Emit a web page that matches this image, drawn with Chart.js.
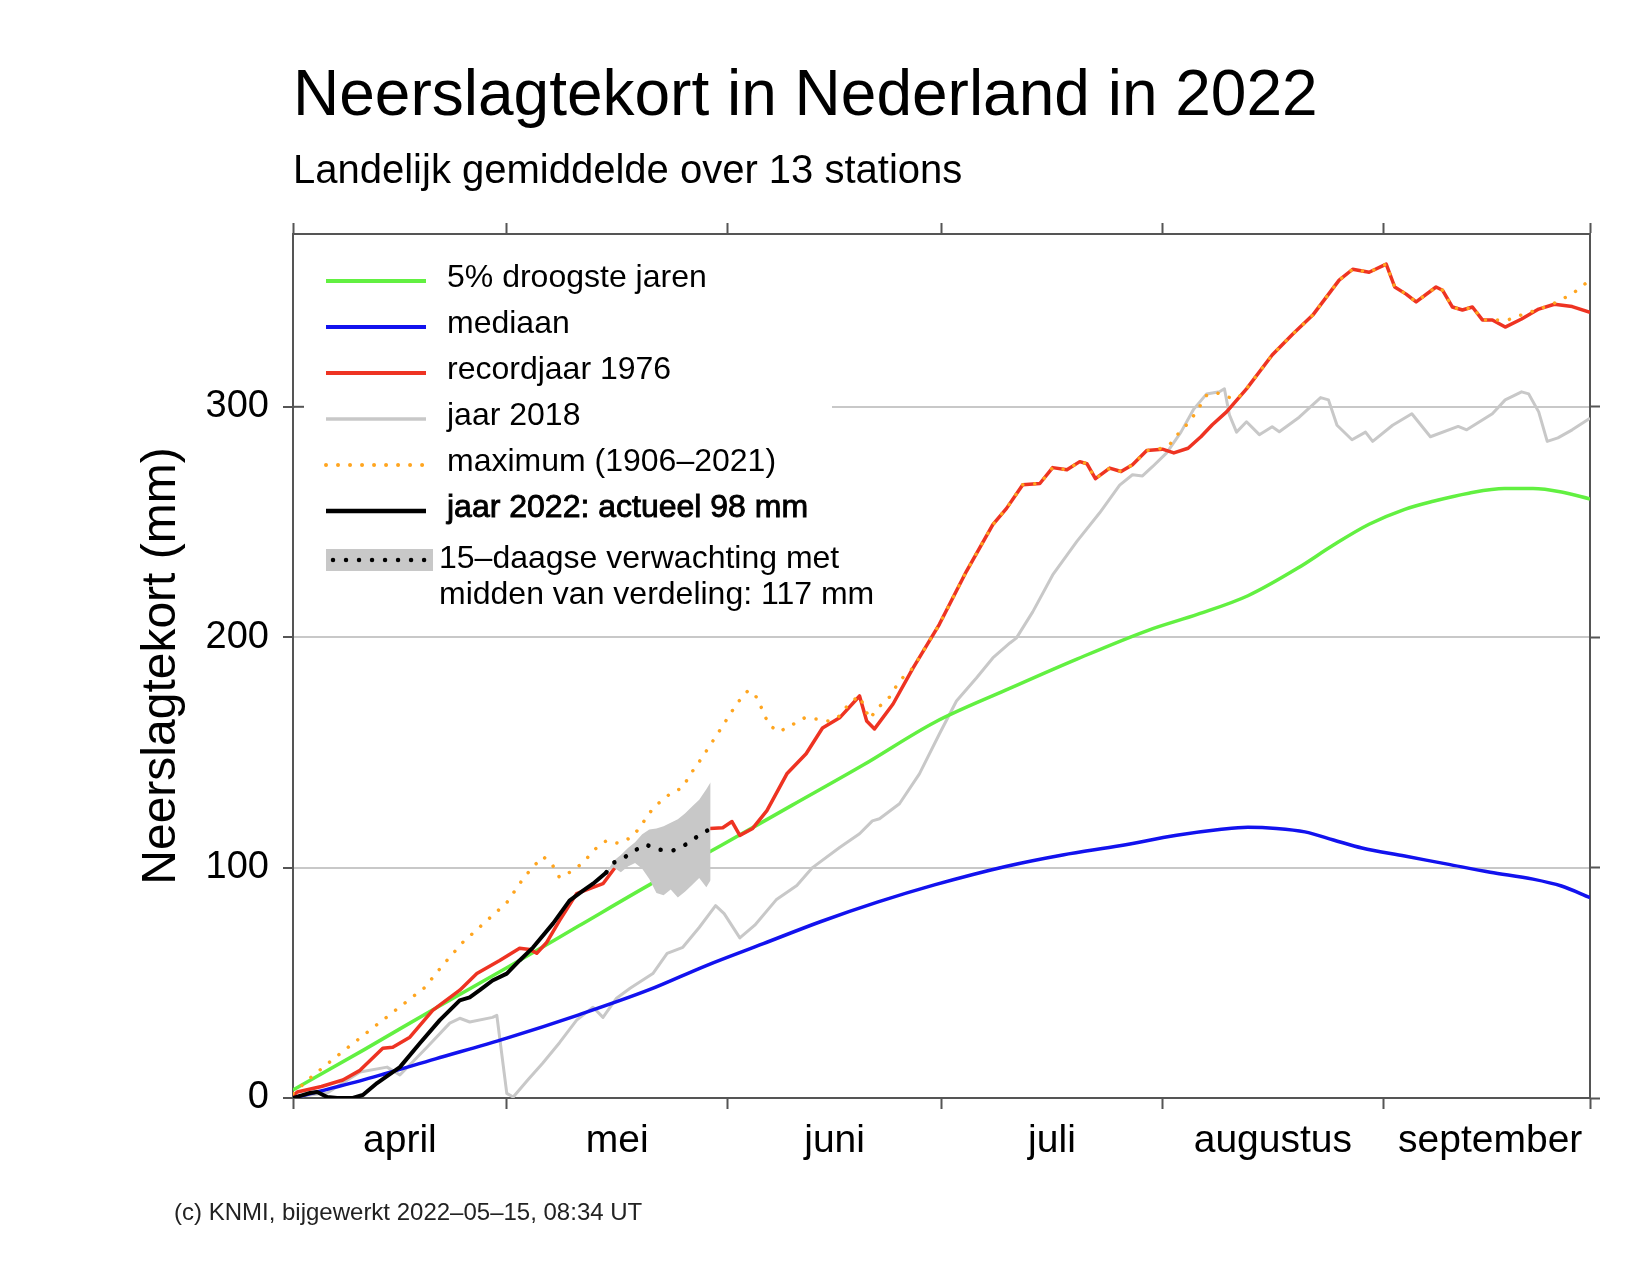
<!DOCTYPE html>
<html lang="nl">
<head>
<meta charset="utf-8">
<title>Neerslagtekort in Nederland in 2022</title>
<script src="https://cdn.jsdelivr.net/npm/chart.js@4.4.1/dist/chart.umd.min.js"></script>
<style>
  html, body { margin: 0; padding: 0; background: #fff; }
  #wrap { width: 1640px; height: 1274px; position: relative; }
</style>
</head>
<body>
<div id="wrap"><canvas id="tekortChart"></canvas></div>
<script>
// x = dagen sinds 1 april (182 = 30 september), y = neerslagtekort in mm
const maandGrenzen = [0, 30, 61, 91, 122, 153, 182];
const maandMidden = [15, 45.5, 76, 106.5, 137.5, 168];
const maanden = ["april", "mei", "juni", "juli", "augustus", "september"];
const yTicks = [0, 100, 200, 300];

const droogsteDagen = [0, 10, 20, 30, 40, 50, 60, 70, 80, 90, 100, 110, 120, 127, 134, 141, 146, 151, 156, 160, 165, 170, 174, 178, 182];
const droogsteWaarden = [3.5, 21, 39, 56.5, 74.5, 92.5, 109.5, 127, 144.5, 163, 177, 190.5, 203, 210, 218, 230, 240, 249, 255.5, 259, 262.5, 264.5, 264.5, 263, 260];

const mediaanDagen = [0, 10, 20, 30, 40, 50, 58, 66, 74, 82, 90, 100, 108, 116, 124, 130, 134, 138, 142, 146, 150, 156, 162, 168, 174, 178, 182];
const mediaanWaarden = [0, 8, 17, 26, 36, 47, 57.5, 67, 76.5, 85, 92.5, 100.5, 105.5, 109.5, 114, 116.5, 117.5, 117, 115.5, 112, 108.5, 105, 101.5, 98, 95, 92, 87];

const dagen1976 = [0, 0.6, 4, 7, 9.4, 12.6, 14, 16.4, 19.6, 23.4, 25.8, 29, 31.8, 33.2, 34.2, 35.6, 37.4, 39.8, 42, 43.5, 45.9, 48, 51, 54, 56.5, 58.5, 60.3, 61.6, 62.7, 64.5, 66.5, 69.3, 72, 74.3, 76.7, 79.5, 80.5, 81.6, 84.2, 87, 90.7, 94.5, 98.2, 100.1, 102.4, 104.8, 106.6, 108.6, 110.4, 111.4, 112.6, 114.6, 116.2, 117.8, 119.8, 122, 123.6, 125.6, 127.4, 129, 131, 133.8, 137.4, 140.3, 143.1, 146.8, 148.7, 151, 153.4, 154.6, 156.2, 157.6, 160.4, 161.3, 162.7, 164.1, 165.5, 166.9, 168.3, 170.1, 172.4, 174.8, 177, 179.5, 182];
const waarden1976 = [1, 2.6, 5, 7.8, 12, 21.6, 22, 26.4, 38, 46.8, 54, 59.7, 65, 64.5, 62.8, 67.5, 77, 88.7, 91.3, 93, 103, 107, 110, 113, 115, 117, 117.3, 120, 114, 117, 124.7, 140.7, 149.4, 160.6, 165, 174.5, 163.6, 160.2, 171, 186.6, 205.6, 228.6, 248.9, 255.8, 266.2, 266.7, 273.6, 272.7, 276.2, 275.3, 268.8, 273.4, 271.9, 274.9, 281, 281.6, 280, 282, 287, 292.2, 297.8, 307.8, 322.5, 331.6, 339.8, 355, 359.7, 358.4, 361.9, 352, 348.9, 345.5, 352, 350.6, 343.3, 342, 343.3, 337.7, 337.7, 334.6, 338.1, 342.4, 344.5, 343.5, 341];

const dagen2018 = [0, 4.8, 9.4, 13.2, 15, 18.8, 22, 23.4, 24.8, 28, 28.6, 30, 30.9, 33, 35, 37.4, 39.8, 42.1, 43.5, 45.4, 47.3, 50.5, 52.5, 54.7, 57, 59.3, 60.5, 62.7, 64.8, 67.8, 70.7, 72.9, 76.7, 79.5, 81.3, 82.3, 85.1, 87.9, 90.7, 93.1, 95.9, 98.2, 100.6, 101.5, 103.8, 106.6, 110, 113.2, 116, 117.8, 119.2, 120.6, 122.6, 124.6, 126.4, 128.2, 130, 130.7, 131.4, 132.4, 133.8, 135.6, 137.4, 138.4, 141.2, 144.2, 145.3, 146.5, 148.6, 150.5, 151.5, 154.3, 157, 159.6, 163.5, 164.7, 168.3, 170.1, 172.4, 173.4, 174.8, 176, 177.5, 179.5, 182];
const waarden2018 = [0.5, 2.2, 11.3, 13.4, 10, 22, 32.5, 34.6, 33, 35, 35.9, 2, 0.4, 8, 15, 24, 33.8, 39.4, 35, 43.3, 47.6, 54, 62.8, 65.4, 74, 83.5, 80, 69.5, 75, 86, 92.2, 100, 108.7, 114.7, 120.3, 121.2, 127.7, 140.7, 158, 172.3, 182.3, 191, 197.5, 199.6, 211, 227, 241.6, 254, 266, 270.5, 270, 274, 280, 289, 299, 305.6, 306.5, 307.8, 296.5, 289, 293.5, 287.9, 291.3, 289.2, 295.5, 304, 303, 292, 285.7, 289, 285, 292, 297, 287, 291.5, 290, 297, 303, 306.5, 305.6, 297.8, 285, 286.5, 290, 295];

const maxDagen = [0, 2.4, 5.5, 10.4, 15.3, 18.5, 21, 23.8, 27.2, 30, 32.3, 33.7, 35.1, 36.3, 37.4, 39.3, 41, 42.1, 44, 45.6, 47.3, 48.7, 49.8, 51.2, 52.9, 54.7, 55.7, 56.8, 58, 59.2, 60.3, 61.4, 62.6, 63.9, 65.2, 65.9, 66.8, 68.2, 70, 71.8, 73.4, 75.2, 76.7, 78.1, 79.5, 80.9, 82.2, 83.7, 84.9, 86.1, 87, 90.7, 94.5, 98.2, 100.1, 102.4, 104.8, 106.6, 108.6, 110.4, 111.4, 112.6, 114.6, 116.2, 117.8, 119.8, 121.6, 123, 124.4, 125.8, 127, 128.2, 129.7, 131, 132.5, 133.8, 137.4, 140.3, 143.1, 146.8, 148.7, 151, 153.4, 154.6, 156.2, 157.6, 160.4, 161.3, 162.7, 164.1, 165.5, 166.9, 168.3, 170.5, 172.5, 175, 177, 179.5, 182];
const maxWaarden = [2, 8.7, 16.5, 28.5, 40.3, 48, 57.6, 67.5, 77, 84.8, 95.2, 100.4, 104.8, 101.7, 95.7, 98.7, 103, 107.4, 111.7, 110.6, 112.8, 117.3, 123, 127.7, 132, 134.8, 140.3, 145, 150.6, 156.3, 161.5, 167, 172.3, 177, 173.6, 168, 161.9, 158.9, 161.9, 165, 164.5, 163.6, 165.8, 171.5, 174.5, 164.5, 169.7, 174, 180, 184.4, 186.6, 205.6, 228.6, 248.9, 255.8, 266.2, 266.7, 273.6, 272.7, 276.2, 275.3, 268.8, 273.4, 271.9, 274.9, 281, 281.8, 283.5, 289, 293.5, 299, 305, 306, 304.3, 303.5, 307.8, 322.5, 331.6, 339.8, 355, 359.7, 358.4, 361.9, 352, 348.9, 345.5, 352, 350.6, 343.3, 342, 343.3, 337.7, 337.7, 337.7, 340, 342.5, 345, 349, 355];

const dagen2022 = [0, 2.4, 3.4, 4.8, 6.2, 8.4, 9.8, 11.8, 15, 17.8, 20.6, 23.4, 24.8, 26.2, 28, 30, 31.8, 33.7, 36.5, 38.8, 40.7, 42.1, 44];
const waarden2022 = [0, 2.2, 2.6, 0.4, 0, 0, 1.3, 6.5, 13.4, 23.8, 33.8, 42.4, 43.7, 46.8, 51, 54, 59.7, 65.4, 75.8, 85.7, 90, 93, 98];

const verwachtingDagen = [44, 44.7, 46.3, 47.7, 49.5, 51.2, 53.3, 55.1, 56.7, 58.6];
const verwachtingMidden = [98, 101.7, 104, 107, 110, 107.8, 107.4, 110, 113.4, 117];

const bandDagen = [44, 45, 46, 47, 48, 49, 50, 51, 52, 53, 54, 55, 56, 57, 58, 58.6];
const bandBoven = [98, 103, 105.5, 108.5, 111, 114.5, 116.5, 117, 118, 119.5, 121, 123.5, 126.5, 129.5, 134, 137];
const bandOnder = [98, 100, 98, 100.5, 102, 99.5, 95, 89, 88, 90.5, 87, 89.5, 92.5, 95.5, 91.5, 94.5];

const legendaTeksten = ["5% droogste jaren", "mediaan", "recordjaar 1976", "jaar 2018", "maximum (1906\u20132021)", "jaar 2022: actueel 98 mm"];
const verwachtingTekst = ["15\u2013daagse verwachting met", "midden van verdeling: 117 mm"];
const voetTekst = "(c) KNMI, bijgewerkt 2022\u201305\u201315, 08:34 UT";

const FONT = "'Liberation Sans', Arial, Helvetica, sans-serif";
Chart.defaults.font.family = FONT;

const punten = (dagen, waarden) => dagen.map((d, i) => ({ x: d, y: waarden[i] }));

const lijn = (label, dagen, waarden, kleur, dikte, extra = {}) => Object.assign({
  label: label,
  data: punten(dagen, waarden),
  borderColor: kleur,
  backgroundColor: kleur,
  borderWidth: dikte,
  pointRadius: 0,
  tension: 0,
  fill: false,
  borderJoinStyle: "round"
}, extra);

// eerste dataset wordt bovenop getekend
const datasets = [
  lijn("jaar 2022", dagen2022, waarden2022, "#000000", 4),
  lijn("verwachting", verwachtingDagen, verwachtingMidden, "#000000", 4.5, { borderDash: [0.01, 13], borderCapStyle: "round" }),
  lijn("band boven", bandDagen, bandBoven, "rgba(0,0,0,0)", 0, { fill: "+1", backgroundColor: "#c8c8c8" }),
  lijn("band onder", bandDagen, bandOnder, "rgba(0,0,0,0)", 0),
  lijn("maximum (1906-2021)", maxDagen, maxWaarden, "#ffa51f", 3.5, { borderDash: [0.01, 12], borderCapStyle: "round" }),
  lijn("recordjaar 1976", dagen1976, waarden1976, "#ee3322", 3.5),
  lijn("5% droogste jaren", droogsteDagen, droogsteWaarden, "#62f041", 3.5, { tension: 0.4, cubicInterpolationMode: "monotone" }),
  lijn("mediaan", mediaanDagen, mediaanWaarden, "#1212ee", 3.5, { tension: 0.4, cubicInterpolationMode: "monotone" }),
  lijn("jaar 2018", dagen2018, waarden2018, "#c8c8c8", 3)
];

// legenda in de grafiek, volgorde: groen, blauw, rood, grijs, oranje, zwart
const legendaVolgorde = [6, 7, 5, 8, 4, 0];

const legenda = {
  id: "legenda",
  beforeDatasetsDraw(chart) {
    const { ctx, chartArea: a } = chart;
    ctx.save();
    ctx.fillStyle = "#ffffff";
    ctx.fillRect(a.left + 2, a.top + 2, 537, 389);

    // klein tickje binnen de as bij 300
    const y300 = chart.scales.y.getPixelForValue(300);
    ctx.strokeStyle = "#555";
    ctx.lineWidth = 2;
    ctx.beginPath();
    ctx.moveTo(a.left, y300);
    ctx.lineTo(a.left + 11, y300);
    ctx.stroke();

    ctx.font = "32px " + FONT;
    ctx.textBaseline = "middle";
    legendaVolgorde.forEach((idx, i) => {
      const ds = chart.data.datasets[idx];
      const y = a.top + 47 + i * 46;
      ctx.strokeStyle = ds.borderColor;
      ctx.lineWidth = ds.borderWidth + 0.5;
      ctx.lineCap = ds.borderCapStyle || "butt";
      ctx.setLineDash(ds.borderDash || []);
      ctx.beginPath();
      ctx.moveTo(a.left + 33, y);
      ctx.lineTo(a.left + 133, y);
      ctx.stroke();
      ctx.setLineDash([]);
      ctx.fillStyle = "#000";
      ctx.fillText(legendaTeksten[i], a.left + 154, y - 3);
      if (idx === 0) {
        // actuele jaar iets zwaarder aangezet
        ctx.strokeStyle = "#000";
        ctx.lineWidth = 0.9;
        ctx.lineCap = "butt";
        ctx.strokeText(legendaTeksten[i], a.left + 154, y - 3);
      }
    });

    // verwachting: grijze band met stippellijn
    const yb = a.top + 326;
    ctx.fillStyle = chart.data.datasets[2].backgroundColor;
    ctx.fillRect(a.left + 33, yb - 11, 107, 22);
    const vw = chart.data.datasets[1];
    ctx.strokeStyle = vw.borderColor;
    ctx.lineWidth = vw.borderWidth;
    ctx.lineCap = "round";
    ctx.setLineDash(vw.borderDash);
    ctx.beginPath();
    ctx.moveTo(a.left + 40, yb);
    ctx.lineTo(a.left + 134, yb);
    ctx.stroke();
    ctx.setLineDash([]);
    ctx.fillStyle = "#000";
    ctx.fillText(verwachtingTekst[0], a.left + 146, yb - 1);
    ctx.fillText(verwachtingTekst[1], a.left + 146, yb + 35);
    ctx.restore();
  }
};

const voetnoot = {
  id: "voetnoot",
  afterDraw(chart) {
    const ctx = chart.ctx;
    ctx.save();
    ctx.font = "24px " + FONT;
    ctx.fillStyle = "#222";
    ctx.textBaseline = "alphabetic";
    ctx.fillText(voetTekst, 174, 1220);
    ctx.restore();
  }
};

const asKleur = "#555";

new Chart(document.getElementById("tekortChart"), {
  type: "line",
  data: { datasets: datasets },
  options: {
    responsive: true,
    maintainAspectRatio: false,
    animation: false,
    parsing: false,
    normalized: true,
    layout: { padding: { left: 0, right: 40, top: 0, bottom: 0 } },
    plugins: {
      legend: { display: false },
      tooltip: { enabled: false },
      title: {
        display: true,
        text: "Neerslagtekort in Nederland in 2022",
        align: "start",
        fullSize: false,
        color: "#000",
        font: { size: 64, weight: "normal", lineHeight: 1.2 },
        padding: { top: 59.4, bottom: 0 }
      },
      subtitle: {
        display: true,
        text: "Landelijk gemiddelde over 13 stations",
        align: "start",
        fullSize: false,
        color: "#000",
        font: { size: 40, weight: "normal", lineHeight: 1.2 },
        padding: { top: 11.9, bottom: 26.9 }
      }
    },
    scales: {
      x: {
        type: "linear",
        position: "bottom",
        min: 0,
        max: 182,
        afterBuildTicks: s => {
          s.ticks = maandGrenzen.concat(maandMidden).sort((p, q) => p - q).map(v => ({ value: v }));
        },
        afterFit: s => { s.height = 176; },
        grid: {
          drawOnChartArea: false,
          tickLength: 11,
          tickWidth: 2,
          tickColor: c => maandGrenzen.includes(c.tick.value) ? asKleur : "rgba(0,0,0,0)"
        },
        border: { color: asKleur, width: 2 },
        ticks: {
          autoSkip: false,
          maxRotation: 0,
          padding: 9,
          color: "#000",
          font: { size: 39 },
          callback: v => {
            const i = maandMidden.indexOf(v);
            return i >= 0 ? maanden[i] : "";
          }
        }
      },
      xTop: {
        type: "linear",
        position: "top",
        min: 0,
        max: 182,
        afterBuildTicks: s => { s.ticks = maandGrenzen.map(v => ({ value: v })); },
        grid: { drawOnChartArea: false, tickLength: 11, tickWidth: 2, color: asKleur },
        border: { color: asKleur, width: 2 },
        ticks: { display: false }
      },
      y: {
        type: "linear",
        position: "left",
        min: 0,
        max: 375,
        afterBuildTicks: s => { s.ticks = yTicks.map(v => ({ value: v })); },
        afterFit: s => { s.width = 293; },
        grid: {
          color: c => c.tick.value === 0 ? "rgba(0,0,0,0)" : "#c8c8c8",
          lineWidth: 2,
          tickLength: 10,
          tickWidth: 2,
          tickColor: asKleur
        },
        border: { color: asKleur, width: 2 },
        ticks: { padding: 14, color: "#000", font: { size: 38 } },
        title: {
          display: true,
          text: "Neerslagtekort (mm)",
          color: "#000",
          font: { size: 48, lineHeight: 1.2 },
          padding: { top: 132.6, bottom: 0 }
        }
      },
      yR: {
        type: "linear",
        position: "right",
        min: 0,
        max: 375,
        afterBuildTicks: s => { s.ticks = yTicks.map(v => ({ value: v })); },
        grid: { drawOnChartArea: false, tickLength: 10, tickWidth: 2, color: asKleur },
        border: { color: asKleur, width: 2 },
        ticks: { display: false }
      }
    }
  },
  plugins: [legenda, voetnoot]
});
</script>
</body>
</html>
